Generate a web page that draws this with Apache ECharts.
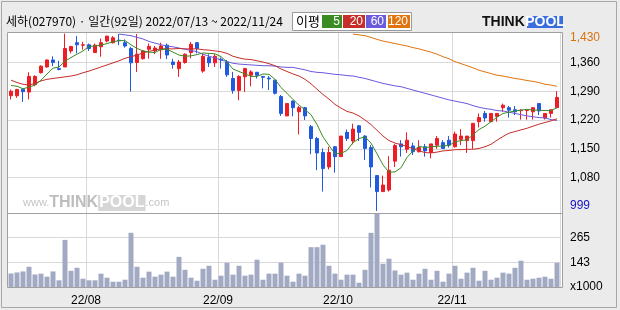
<!DOCTYPE html>
<html><head><meta charset="utf-8">
<script src="https://cdn.jsdelivr.net/npm/echarts@6/dist/echarts.min.js"></script>
<style>html,body{margin:0;padding:0;background:#ebebeb}#c{width:620px;height:310px}</style>
</head><body><div id="c"></div>
<script>
const dates = [
"2022/07/13","2022/07/14","2022/07/15","2022/07/18","2022/07/19","2022/07/20","2022/07/21","2022/07/22","2022/07/25","2022/07/26","2022/07/27","2022/07/28","2022/07/29",
"2022/08/01","2022/08/02","2022/08/03","2022/08/04","2022/08/05","2022/08/08","2022/08/09","2022/08/10","2022/08/11","2022/08/12","2022/08/16","2022/08/17","2022/08/18","2022/08/19","2022/08/22","2022/08/23","2022/08/24","2022/08/25","2022/08/26","2022/08/29","2022/08/30","2022/08/31",
"2022/09/01","2022/09/02","2022/09/05","2022/09/06","2022/09/07","2022/09/08","2022/09/13","2022/09/14","2022/09/15","2022/09/16","2022/09/19","2022/09/20","2022/09/21","2022/09/22","2022/09/23","2022/09/26","2022/09/27","2022/09/28","2022/09/29","2022/09/30",
"2022/10/04","2022/10/05","2022/10/06","2022/10/07","2022/10/11","2022/10/12","2022/10/13","2022/10/14","2022/10/17","2022/10/18","2022/10/19","2022/10/20","2022/10/21","2022/10/24","2022/10/25","2022/10/26","2022/10/27","2022/10/28","2022/10/31",
"2022/11/01","2022/11/02","2022/11/03","2022/11/04","2022/11/07","2022/11/08","2022/11/09","2022/11/10","2022/11/11","2022/11/14","2022/11/15","2022/11/16","2022/11/17","2022/11/18","2022/11/21","2022/11/22","2022/11/23","2022/11/24"];

const openP = [1279,1279,1295,1288,1306,1335,1349,1366,1345,1349,
1388,1408,1402,1403,1384,1398,1412,1408,1414,1408,
1394,1360,1369,1392,1388,1391,1402,1361,1345,1360,
1384,1408,1339,1372,1359,1368,1361,1321,1292,1325,
1329,1336,1326,1322,1317,1277,1230,1266,1240,1250,
1204,1175,1141,1106,1155,1131,1190,1169,1206,1181,
1153,1085,1046,1050,1120,1162,1149,1157,1143,1155,
1141,1159,1165,1171,1155,1173,1170,1170,1216,1236,
1216,1229,1250,1250,1245,1243,1243,1240,1260,1225,
1236,1250];
const closeP = [1290,1294,1289,1326,1326,1351,1366,1360,1343,1394,
1399,1403,1403,1394,1402,1408,1424,1420,1413,1400,
1359,1380,1388,1399,1395,1400,1378,1355,1361,1380,
1404,1394,1375,1359,1375,1366,1330,1292,1326,1345,
1337,1329,1324,1320,1285,1236,1260,1250,1250,1230,
1175,1140,1102,1141,1131,1181,1175,1198,1190,1151,
1106,1046,1062,1098,1158,1155,1171,1143,1153,1145,
1162,1175,1151,1159,1186,1181,1181,1212,1226,1225,
1236,1236,1256,1244,1240,1244,1244,1250,1242,1236,
1245,1275];
const highP = [1294,1296,1298,1336,1329,1353,1367,1375,1364,1430,
1400,1424,1410,1406,1406,1418,1424,1424,1429,1416,
1398,1429,1390,1406,1400,1408,1406,1369,1366,1382,
1410,1410,1381,1380,1380,1372,1366,1337,1329,1347,
1341,1337,1327,1327,1318,1281,1260,1268,1254,1252,
1208,1179,1151,1155,1157,1181,1197,1211,1208,1183,
1159,1085,1085,1132,1162,1171,1190,1165,1171,1162,
1162,1181,1171,1181,1192,1198,1181,1212,1236,1242,
1236,1236,1260,1254,1254,1246,1244,1250,1260,1236,
1245,1290];
const lowP = [1270,1274,1264,1270,1302,1333,1347,1351,1341,1349,
1382,1382,1391,1388,1383,1374,1409,1406,1402,1396,
1289,1337,1367,1369,1380,1369,1368,1345,1325,1357,
1370,1382,1335,1349,1349,1345,1325,1284,1268,1288,
1302,1321,1297,1293,1282,1230,1230,1229,1185,1220,
1137,1098,1046,1100,1092,1131,1169,1161,1169,1123,
1056,999,1046,1046,1106,1131,1140,1135,1141,1131,
1127,1150,1150,1153,1153,1159,1140,1150,1202,1216,
1216,1216,1240,1226,1232,1221,1221,1221,1232,1221,
1226,1250];
const volume = [88,93,98,121,83,87,72,98,54,254,
101,116,62,54,54,87,67,47,47,57,
289,121,67,97,72,82,97,72,170,106,
67,52,111,126,57,77,141,82,126,77,
82,156,57,87,87,141,77,47,87,77,
218,218,230,126,87,57,82,82,42,106,
289,382,136,161,103,82,92,57,87,111,
57,101,47,87,126,62,92,116,52,101,
57,67,92,87,116,151,57,62,67,72,
62,141];
const ma5 = [1304,1302,1296,1300,1305,1317,1332,1346,1349,1363,
1372,1380,1388,1399,1400,1402,1406,1410,1413,1413,
1403,1394,1388,1385,1384,1392,1392,1385,1378,1375,
1376,1379,1383,1382,1381,1374,1361,1344,1338,1332,
1326,1326,1332,1331,1319,1299,1285,1270,1256,1245,
1233,1209,1179,1158,1138,1139,1146,1165,1175,1179,
1164,1138,1111,1093,1094,1104,1129,1145,1156,1153,
1155,1156,1157,1158,1167,1170,1172,1184,1197,1205,
1216,1227,1236,1239,1242,1244,1246,1244,1244,1243,
1243,1250];
const ma20 = [1317,1311,1307,1305,1309,1315,1319,1321,1323,1325,1327,1330,1335,1339,1344,1349,1354,1359,1364,1370,
1374,1378,1383,1387,1390,1393,1393,1393,1394,1393,1393,1393,1391,1390,1388,1386,1382,1375,1371,1368,
1367,1364,1361,1357,1352,1344,1338,1332,1327,1319,1308,1295,1282,1271,1258,1249,1241,1237,1230,1220,
1209,1195,1181,1170,1164,1160,1156,1150,1145,1141,1140,1142,1145,1146,1148,1148,1149,1149,1151,1155,
1161,1171,1180,1188,1192,1196,1200,1205,1210,1214,1218,1223];
const ma60 = [null,null,null,null,null,null,null,null,null,null,null,null,null,null,null,null,null,null,
1429,1427,1425,1421,1417,1411,1407,1403,1400,1398,1395,1392,1389,1386,
1380,1375,1371,1366,1362,1358,1356,1355,1354,1353,1352,1352,1351,1349,1348,1348,1345,1342,1338,1336,1335,1333,1331,1330,1328,1327,1324,1321,1317,1313,1309,1306,
1303,1301,1297,1293,1289,1285,1281,1277,1273,1269,1266,1263,1260,1255,1251,1248,1246,1243,1242,1239,1236,1233,1230,1228,1226,1225,1221,1219];
const ma120 = [null,null,null,null,null,null,null,null,null,null,null,null,null,null,null,null,null,null,null,null,
null,null,null,null,null,null,null,null,null,null,null,null,null,null,null,null,null,null,null,null,
null,null,null,null,null,null,null,null,null,null,null,null,null,null,null,null,null,
1429,1427,1425,1421,1416,1412,1409,1406,1403,1400,1396,1393,1389,1385,1380,1374,1369,1362,1357,1352,1347,1341,1337,1333,1329,1327,1324,1321,1319,1316,1314,1311,1307,1305,1302];
const priceTicks = [1080,1150,1220,1290,1360];
const maNames = ['5','20','60','120'];
const maColors = ['#3a8c22','#c62e2a','#6a5add','#e07510'];

const chart = echarts.init(document.getElementById('c'), null, {renderer:'canvas'});
const candle = dates.map((d,i)=>[openP[i], closeP[i], lowP[i], highP[i]]);
const fmt = v => String(v).replace(/\B(?=(\d{3})+(?!\d))/g, ',');
const monthStart = i => i > 0 && dates[i].slice(5,7) !== dates[i-1].slice(5,7);
const FONT = '"Liberation Sans", Arial, sans-serif';
const KFONT = '"Noto Sans CJK KR", sans-serif';
const gridLine = {show:true, interval:(i)=>monthStart(i), lineStyle:{color:'#d9d9d9', width:1}};
const maxHigh = Math.max(...highP), minLow = Math.min(...lowP);

const legendEls = [
  {type:'rect', shape:{x:292.5,y:12.5,width:119,height:18}, style:{fill:'#fff', stroke:'#9a9a9a', lineWidth:1}, z:20},
  {type:'text', x:296, y:21.5, style:{text:'이평', font:'13px '+KFONT, fill:'#000', textVerticalAlign:'middle'}, z:21}
];
const boxes = [[322,20],[343,22],[366,20],[388,22]];
boxes.forEach((b,k)=>{
  legendEls.push({type:'rect', shape:{x:b[0],y:15,width:b[1],height:13}, style:{fill:maColors[k]}, z:21});
  legendEls.push({type:'text', x:b[0]+b[1]-2, y:21.5, style:{text:maNames[k], font:'12px '+FONT, fill:'#fff', textAlign:'right', textVerticalAlign:'middle'}, z:22});
});

const option = {
  animation:false,
  backgroundColor:'#ebebeb',
  title:{text:'세하(027970) · 일간(92일) 2022/07/13 ~ 2022/11/24', left:6, top:15, padding:0,
    textStyle:{fontSize:12, fontWeight:'normal', color:'#000', fontFamily:KFONT}},
  grid:[{left:8, width:552, top:32, height:181}, {left:8, width:552, top:213, height:74}],
  xAxis:[
    {type:'category', gridIndex:0, data:dates, axisLine:{show:false}, axisTick:{show:false}, axisLabel:{show:false}, splitLine:gridLine},
    {type:'category', gridIndex:1, data:dates, axisLine:{show:false}, axisTick:{show:false},
      axisLabel:{show:true, interval:(i)=>monthStart(i), formatter:v=>v.slice(2,4)+'/'+v.slice(5,7), margin:8, fontSize:12, color:'#000', fontFamily:FONT, padding:[0,6,0,0]},
      splitLine:gridLine}
  ],
  yAxis:[
    {type:'value', gridIndex:0, position:'right', min:994, max:1434, axisLine:{show:false},
      axisTick:{show:false, customValues:priceTicks},
      axisLabel:{customValues:priceTicks, formatter:fmt, margin:10, fontSize:12, color:'#000', fontFamily:FONT},
      splitLine:{show:true, lineStyle:{color:'#d9d9d9', width:1}}},
    {type:'value', gridIndex:1, position:'right', min:21, max:387, interval:122, axisLine:{show:false}, axisTick:{show:false},
      axisLabel:{formatter:v=>v===21?'x1000':(v===387?'':String(v)), margin:10, fontSize:12, color:'#000', fontFamily:FONT},
      splitLine:{show:true, lineStyle:{color:'#d9d9d9', width:1}}}
  ],
  series:[
    {type:'candlestick', xAxisIndex:0, yAxisIndex:0, data:candle, barWidth:4,
      itemStyle:{color:'#ee1c24', color0:'#1f5ae0', borderColor:'#ee1c24', borderColor0:'#1f5ae0', borderWidth:1}},
    {type:'line', name:'120', xAxisIndex:0, yAxisIndex:0, data:ma120, showSymbol:false, lineStyle:{color:maColors[3], width:1}, z:3},
    {type:'line', name:'60', xAxisIndex:0, yAxisIndex:0, data:ma60, showSymbol:false, lineStyle:{color:maColors[2], width:1}, z:3},
    {type:'line', name:'20', xAxisIndex:0, yAxisIndex:0, data:ma20, showSymbol:false, lineStyle:{color:maColors[1], width:1}, z:3},
    {type:'line', name:'5', xAxisIndex:0, yAxisIndex:0, data:ma5, showSymbol:false, lineStyle:{color:maColors[0], width:1}, z:3},
    {type:'bar', xAxisIndex:1, yAxisIndex:1, data:volume, barWidth:5, itemStyle:{color:'#a2a9c2'}}
  ],
  graphic:{elements:[
    {type:'rect', shape:{x:7,y:32,width:555,height:255}, style:{fill:'#fff'}, z:-10, silent:true},
    {type:'text', x:23, y:203, z:-5, silent:true, style:{
      text:'{w|www.}{t|THINK}{p|POOL}{w|.com}', textVerticalAlign:'middle',
      rich:{w:{font:'11px '+FONT, fill:'#c4c4c4'}, t:{font:'bold 16px '+FONT, fill:'#bdbdbd'},
        p:{font:'bold 16px '+FONT, fill:'#fff', backgroundColor:'#d6d6d6', padding:[0,1,0,1]}}}},
    {type:'rect', shape:{x:7.5,y:32.5,width:555,height:255}, style:{fill:'none', stroke:'#a0a0a0', lineWidth:1}, z:50, silent:true},
    {type:'line', shape:{x1:7.5,y1:213.5,x2:562.5,y2:213.5}, style:{stroke:'#a0a0a0', lineWidth:1}, z:50, silent:true},
    {type:'rect', shape:{x:1.5,y:1.5,width:615,height:306}, style:{fill:'none', stroke:'#a8a8a8', lineWidth:1}, z:50, silent:true},
    {type:'text', x:570, y:38, z:30, style:{text:fmt(maxHigh), font:'12px '+FONT, fill:'#d8730e', textVerticalAlign:'middle'}},
    {type:'text', x:570, y:206, z:30, style:{text:fmt(minLow), font:'12px '+FONT, fill:'#1414c8', textVerticalAlign:'middle'}},
    {type:'text', x:482, y:22, z:30, style:{text:'THINK', font:'bold 14px '+FONT, fill:'#111', textVerticalAlign:'middle'}},
    {type:'rect', shape:{x:527,y:16,width:36,height:12}, style:{fill:'#3a6ee0'}, z:30},
    {type:'text', x:545, y:22.5, z:31, style:{text:'POOL', font:'bold 14px '+FONT, fill:'#fff', textAlign:'center', textVerticalAlign:'middle'}},
    ...legendEls
  ]}
};
chart.setOption(option);
</script></body></html>
